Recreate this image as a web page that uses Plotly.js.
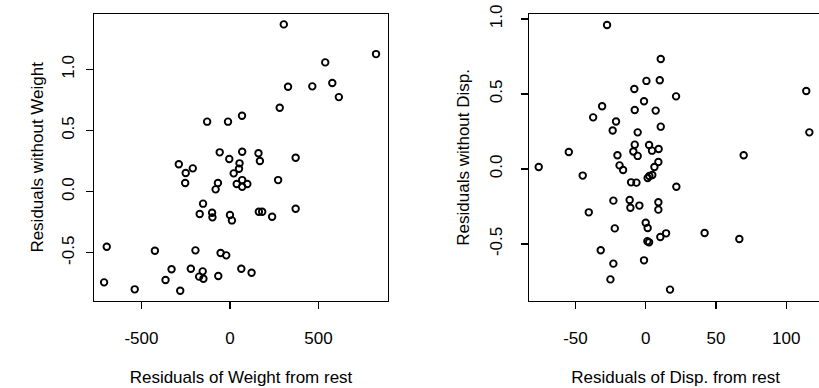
<!DOCTYPE html>
<html>
<head>
<meta charset="utf-8">
<script src="https://cdn.plot.ly/plotly-3.0.1.min.js"></script>
<style>
html,body{margin:0;padding:0;overflow:hidden;background:#fff;width:819px;height:388px;}
#chart{width:822px;height:388px;}
</style>
</head>
<body>
<div id="chart"></div>
<script>
// Left panel: Residuals of Weight from rest vs Residuals without Weight
const weightResidX = [304, 825, 538, 328, 465, 578, 615, 281, -129, -11, 68, -58, 69, -4, 161, 169, 371, -289, -210, -250, 54, 51, 21, -253, -68, -81, 38, 69, 98, 69, 272, -152, -171, -101, -99, 0, 11, 163, 182, 238, 371, -696, -424, -195, -53, -21, -330, -221, -154, -174, -150, -66, 64, 122, -364, -711, -538, -281];
const weightResidY = [1.369, 1.126, 1.058, 0.859, 0.862, 0.889, 0.774, 0.687, 0.573, 0.573, 0.622, 0.322, 0.327, 0.267, 0.314, 0.251, 0.278, 0.224, 0.191, 0.153, 0.232, 0.188, 0.150, 0.071, 0.071, 0.019, 0.063, 0.095, 0.063, 0.041, 0.095, -0.098, -0.183, -0.172, -0.210, -0.191, -0.235, -0.164, -0.164, -0.205, -0.139, -0.450, -0.483, -0.480, -0.502, -0.521, -0.635, -0.630, -0.652, -0.695, -0.712, -0.690, -0.630, -0.663, -0.723, -0.742, -0.799, -0.810];

// Right panel: Residuals of Disp. from rest vs Residuals without Disp.
const dispResidX = [-27.5, 10.7, 0.5, 10.0, -8.1, 21.6, -1.2, -31.0, -7.8, 7.1, -37.4, -21.1, -23.5, 10.7, -5.7, -7.8, 2.4, 9.2, 4.5, -8.8, -5.7, -54.7, -20.1, 69.7, 114.2, 116.4, -76.1, -18.6, -16.1, 9.0, 6.2, -44.8, 4.7, 2.6, 1.4, -10.4, -6.6, 21.8, -23.0, -11.4, 9.0, -10.9, -4.5, 9.0, -40.5, 0.0, 1.4, -22.0, 1.2, 2.4, 10.4, 14.5, 41.9, 66.6, -32.0, -23.0, -1.2, -25.1, 17.3];
const dispResidY = [0.960, 0.733, 0.587, 0.591, 0.533, 0.484, 0.451, 0.418, 0.393, 0.389, 0.344, 0.316, 0.256, 0.282, 0.244, 0.162, 0.160, 0.133, 0.122, 0.116, 0.087, 0.113, 0.091, 0.091, 0.520, 0.244, 0.013, 0.024, -0.007, 0.047, 0.013, -0.044, -0.040, -0.047, -0.060, -0.089, -0.091, -0.118, -0.211, -0.207, -0.222, -0.258, -0.244, -0.271, -0.289, -0.358, -0.393, -0.396, -0.482, -0.489, -0.453, -0.429, -0.427, -0.467, -0.542, -0.631, -0.609, -0.736, -0.804];

const xTicks1 = [-500, 0, 500];
const xTickText1 = ["-500", "0", "500"];
const xTicks2 = [-50, 0, 50, 100];
const xTickText2 = ["-50", "0", "50", "100"];
const yTicks = [-0.5, 0.0, 0.5, 1.0];
const yTickText = ["-0.5", "0.0", "0.5", "1.0"];

const xTitle1 = "Residuals of Weight from rest";
const yTitle1 = "Residuals without Weight";
const xTitle2 = "Residuals of Disp. from rest";
const yTitle2 = "Residuals without Disp.";

const W = 822, H = 388;
const FONT = "Liberation Sans, Arial, Helvetica, sans-serif";

const markerStyle = {symbol: "circle-open", size: 6.5, color: "#000", line: {color: "#000", width: 1.9}};

const traces = [
  {x: weightResidX, y: weightResidY, type: "scatter", mode: "markers", xaxis: "x", yaxis: "y", marker: markerStyle, hoverinfo: "skip"},
  {x: dispResidX, y: dispResidY, type: "scatter", mode: "markers", xaxis: "x2", yaxis: "y2", marker: markerStyle, hoverinfo: "skip"}
];

const yDom = [1 - 300.7 / H, 1 - 14 / H];

function xAxis(dom, range, vals, text, title, anchor) {
  return {
    domain: dom, range: range, anchor: anchor,
    tickmode: "array", tickvals: vals, ticktext: text,
    ticks: "outside", ticklen: 7, tickwidth: 1.2, tickcolor: "#000",
    showline: true, linecolor: "#000", linewidth: 1.4, mirror: true,
    showgrid: false, zeroline: false,
    tickfont: {family: FONT, size: 17, color: "#000"},
    ticklabelstandoff: 14,
    title: {text: title, font: {family: FONT, size: 17, color: "#000"}, standoff: 24}
  };
}
function yAxis(range, title, anchor, lblStandoff, titleStandoff) {
  return {
    domain: yDom, range: range, anchor: anchor,
    tickmode: "array", tickvals: yTicks, ticktext: yTickText,
    ticks: "outside", ticklen: 7, tickwidth: 1.2, tickcolor: "#000",
    showline: true, linecolor: "#000", linewidth: 1.4, mirror: true,
    showgrid: false, zeroline: false, tickangle: -90,
    tickfont: {family: FONT, size: 17, color: "#000"},
    ticklabelstandoff: lblStandoff,
    title: {text: title, font: {family: FONT, size: 17, color: "#000"}, standoff: titleStandoff}
  };
}

const layout = {
  width: W, height: H,
  margin: {l: 0, r: 0, t: 0, b: 0, pad: 0},
  paper_bgcolor: "#fff", plot_bgcolor: "#fff",
  showlegend: false,
  xaxis: xAxis([94 / W, 388 / W], [-768, 892.6], xTicks1, xTickText1, xTitle1, "y"),
  yaxis: yAxis([-0.892, 1.454], yTitle1, "x", 5, 11),
  xaxis2: xAxis([529.3 / W, 1], [-82.8, 125.4], xTicks2, xTickText2, xTitle2, "y2"),
  yaxis2: yAxis([-0.878, 1.033], yTitle2, "x2", 12, 13)
};

Plotly.newPlot("chart", traces, layout, {staticPlot: true, displayModeBar: false});
</script>
</body>
</html>
